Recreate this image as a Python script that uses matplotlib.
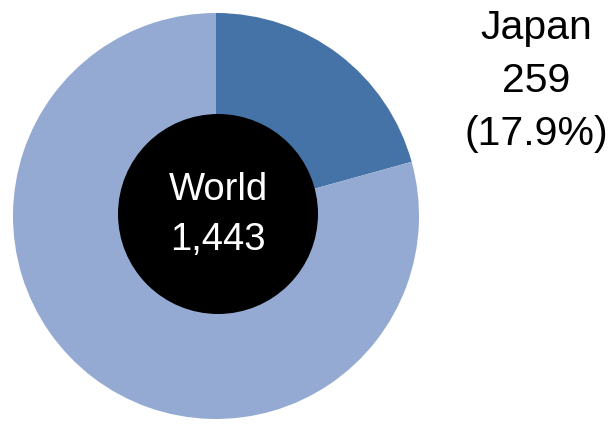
import matplotlib
matplotlib.use("Agg")
import matplotlib.pyplot as plt
from matplotlib.patches import Circle

plt.rcParams['font.family'] = ['Liberation Sans', 'DejaVu Sans']

# shares as drawn in the picture (Japan wedge, rest of world)
categories = ['Japan', 'Rest of world']
slice_shares = [20.7, 79.3]
japan_value = 259
japan_pct = 17.9
world_total = 1443
colors = ['#4673A7', '#95AAD2']

fig = plt.figure(figsize=(6.15, 4.26), dpi=100)
ax = fig.add_axes([0, 0, 1, 1])

ax.pie(slice_shares, colors=colors, startangle=90, counterclock=False,
       center=(216, 210), radius=203, frame=True,
       wedgeprops=dict(linewidth=0))
ax.set_xlim(0, 615)
ax.set_ylim(0, 426)
ax.set_aspect('equal')
ax.axis('off')

ax.add_patch(Circle((218, 212), 100, facecolor='black', edgecolor='none', zorder=3))
ax.text(218, 236, 'World', color='white', fontsize=27.5, ha='center', va='center', zorder=4)
ax.text(218, 186, f'{world_total:,}', color='white', fontsize=27.5, ha='center', va='center', zorder=4)

ax.text(536, 398, categories[0], fontsize=29.5, ha='center', va='center')
ax.text(536, 345, f'{japan_value}', fontsize=29.5, ha='center', va='center')
ax.text(536, 292, f'({japan_pct}%)', fontsize=29.5, ha='center', va='center')

fig.savefig('out.png', dpi=100)
